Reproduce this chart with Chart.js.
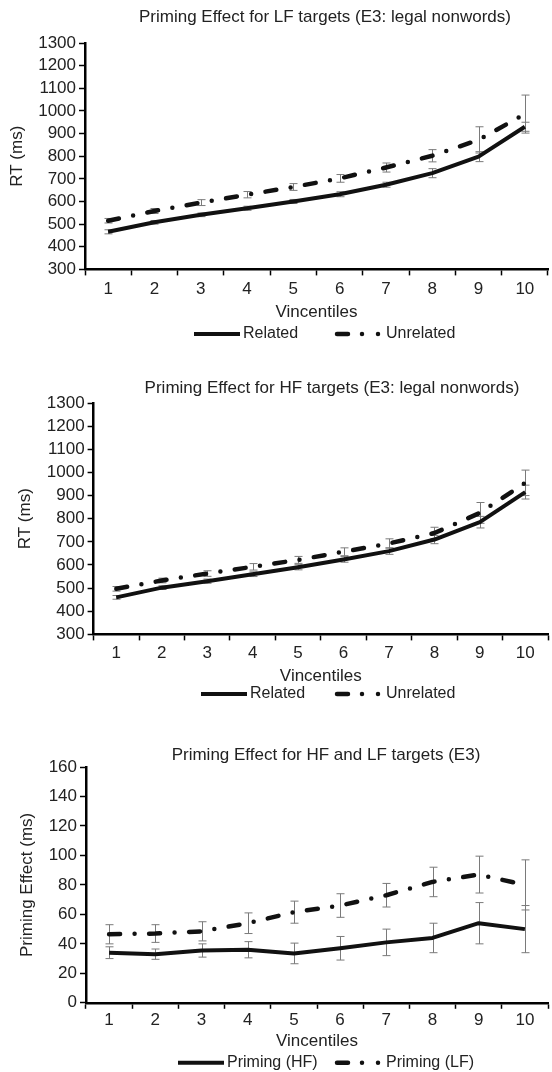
<!DOCTYPE html>
<html>
<head>
<meta charset="utf-8">
<title>Priming effect by vincentile</title>
<script src="https://cdn.jsdelivr.net/npm/chart.js@4.4.1/dist/chart.umd.min.js"></script>
<style>
  html, body { margin: 0; padding: 0; background: #fff; }
  #page { position: relative; width: 552px; height: 1072px; overflow: hidden; }
  canvas { position: absolute; left: 0; }
</style>
</head>
<body>
<div id="page">
  <canvas id="lfChart" width="552" height="360" style="top:0px"></canvas>
  <canvas id="hfChart" width="552" height="360" style="top:360px"></canvas>
  <canvas id="primingChart" width="552" height="352" style="top:720px"></canvas>
</div>
<script>
// ---- data ----
const vincentiles = ['1', '2', '3', '4', '5', '6', '7', '8', '9', '10'];

// LF targets, RT (ms)
const lfRelated      = [466, 508, 541, 570, 600, 632, 674, 725, 798, 930];
const lfRelatedErr   = [9, 8, 8, 9, 9, 11, 11, 20, 22, 20];
const lfUnrelated    = [515, 558, 595, 630, 664, 702, 750, 802, 872, 986];
const lfUnrelatedErr = [10, 11, 13, 14, 15, 17, 20, 27, 58, 84];

// HF targets, RT (ms)
const hfRelated      = [460, 502, 530, 560, 590, 624, 660, 710, 785, 915];
const hfRelatedErr   = [8, 8, 9, 10, 11, 12, 14, 18, 25, 30];
const hfUnrelated    = [497, 533, 563, 592, 622, 657, 693, 738, 825, 955];
const hfUnrelatedErr = [10, 10, 12, 14, 15, 17, 20, 25, 45, 55];

// priming effect (ms)
const primingHF    = [34, 33, 35.5, 36, 33.5, 37, 41, 44, 54, 50];
const primingHFErr = [4, 3.5, 4.5, 5.5, 7, 8, 9, 10, 14, 16];
const primingLF    = [46.5, 47, 48.5, 54, 61.5, 66, 73, 82, 87, 80];
const primingLFErr = [6.5, 6, 6.5, 7, 7.5, 8, 8, 10, 12.5, 17];

const rtRange = [300, 1300];
const primingRange = [0, 160];

// ---- styling ----
const FONT = "'Liberation Sans', Arial, Helvetica, sans-serif";
const TEXT = '#222';
const INK = '#111';
const DASH_DOT = [11, 14.5, 0, 14.5];
const LEGEND_DASH = [11, 14, 0, 16, 0, 60];

// gray error bars, drawn under the lines
const errorBars = {
    id: 'errorBars',
    beforeDatasetsDraw(chart) {
        const { ctx, scales: { x, y } } = chart;
        ctx.save();
        ctx.strokeStyle = '#7a7a7a';
        ctx.lineWidth = 1;
        chart.data.datasets.forEach(ds => {
            (ds.errors || []).forEach((e, i) => {
                const px = Math.round(x.getPixelForValue(i)) + 0.5;
                const top = y.getPixelForValue(ds.data[i] + e);
                const bot = y.getPixelForValue(ds.data[i] - e);
                ctx.beginPath();
                ctx.moveTo(px, top); ctx.lineTo(px, bot);
                ctx.moveTo(px - 4, top); ctx.lineTo(px + 4, top);
                ctx.moveTo(px - 4, bot); ctx.lineTo(px + 4, bot);
                ctx.stroke();
            });
        });
        ctx.restore();
    }
};

// title and legend, placed like the original figure
const figureText = {
    id: 'figureText',
    afterDraw(chart, args, opts) {
        const ctx = chart.ctx;
        ctx.save();
        ctx.fillStyle = TEXT;
        ctx.textBaseline = 'middle';
        ctx.font = '17px ' + FONT;
        ctx.textAlign = 'center';
        ctx.fillText(opts.title, opts.titleX, opts.titleY);

        ctx.font = '16px ' + FONT;
        ctx.textAlign = 'left';
        chart.data.datasets.forEach((ds, i) => {
            const x0 = opts.legendX[i];
            ctx.beginPath();
            ctx.strokeStyle = INK;
            ctx.lineWidth = ds.borderWidth;
            ctx.lineCap = ds.borderDash ? 'round' : 'butt';
            ctx.setLineDash(ds.borderDash ? LEGEND_DASH : []);
            ctx.moveTo(x0, opts.legendY);
            ctx.lineTo(x0 + 46, opts.legendY);
            ctx.stroke();
            ctx.setLineDash([]);
            ctx.fillText(ds.label, x0 + 49, opts.legendY);
        });
        ctx.restore();
    }
};

function lineSet(label, data, errors, dashed) {
    return {
        label: label,
        data: data,
        errors: errors,
        borderColor: INK,
        borderWidth: dashed ? 4.5 : 4,
        borderDash: dashed ? DASH_DOT : undefined,
        borderCapStyle: dashed ? 'round' : 'butt',
        borderJoinStyle: 'round',
        pointRadius: 0,
        fill: false,
        tension: 0
    };
}

function makeChart(canvasId, datasets, cfg) {
    const tickFont = { family: FONT, size: 17 };
    return new Chart(document.getElementById(canvasId), {
        type: 'line',
        data: { labels: vincentiles, datasets: datasets },
        options: {
            responsive: false,
            animation: false,
            events: [],
            layout: { padding: { top: cfg.top, bottom: cfg.bottom, left: 0, right: 4 } },
            plugins: {
                legend: { display: false },
                title: { display: false },
                tooltip: { enabled: false },
                figureText: {
                    title: cfg.title, titleX: cfg.titleX, titleY: cfg.titleY,
                    legendX: cfg.legendX, legendY: cfg.legendY
                }
            },
            scales: {
                x: {
                    offset: true,
                    grid: {
                        offset: true, drawOnChartArea: false, drawTicks: true,
                        tickLength: 6, tickColor: '#000', tickWidth: 1.5
                    },
                    border: { color: '#000', width: 2.5 },
                    ticks: { color: TEXT, font: tickFont, padding: cfg.xPad, autoSkip: false, maxRotation: 0 },
                    title: { display: true, text: 'Vincentiles', color: TEXT, font: tickFont, padding: 0 },
                    afterFit: s => { s.height = cfg.xHeight; }
                },
                y: {
                    min: cfg.range[0],
                    max: cfg.range[1],
                    grid: {
                        drawOnChartArea: false, drawTicks: true,
                        tickLength: 6, tickColor: '#000', tickWidth: 1.5
                    },
                    border: { color: '#000', width: 2.5 },
                    ticks: {
                        stepSize: cfg.step, autoSkip: false, color: TEXT, font: tickFont, padding: 3,
                        callback: v => String(v)
                    },
                    title: { display: true, text: cfg.yTitle, color: TEXT, font: tickFont, padding: { top: cfg.yTitlePad, bottom: 0 } },
                    afterFit: s => { s.width = cfg.yWidth; }
                }
            }
        },
        plugins: [errorBars, figureText]
    });
}

makeChart('lfChart', [
    lineSet('Related', lfRelated, lfRelatedErr, false),
    lineSet('Unrelated', lfUnrelated, lfUnrelatedErr, true)
], {
    title: 'Priming Effect for LF targets (E3: legal nonwords)',
    titleX: 325, titleY: 17, legendX: [194, 337], legendY: 334,
    top: 43, bottom: 37, xHeight: 53.6, xPad: 3.8,
    yWidth: 85, yTitle: 'RT (ms)', yTitlePad: 7.5,
    range: rtRange, step: 100
});

makeChart('hfChart', [
    lineSet('Related', hfRelated, hfRelatedErr, false),
    lineSet('Unrelated', hfUnrelated, hfUnrelatedErr, true)
], {
    title: 'Priming Effect for HF targets (E3: legal nonwords)',
    titleX: 332, titleY: 28, legendX: [201, 337], legendY: 334,
    top: 43, bottom: 33, xHeight: 52.6, xPad: 2.8,
    yWidth: 93.6, yTitle: 'RT (ms)', yTitlePad: 15.4,
    range: rtRange, step: 100
});

makeChart('primingChart', [
    lineSet('Priming (HF)', primingHF, primingHFErr, false),
    lineSet('Priming (LF)', primingLF, primingLFErr, true)
], {
    title: 'Priming Effect for HF and LF targets (E3)',
    titleX: 326, titleY: 35, legendX: [178, 337], legendY: 342.7,
    top: 47, bottom: 20, xHeight: 49.2, xPad: 1.1,
    yWidth: 86, yTitle: 'Priming Effect (ms)', yTitlePad: 17.2,
    range: primingRange, step: 20
});
</script>
</body>
</html>
